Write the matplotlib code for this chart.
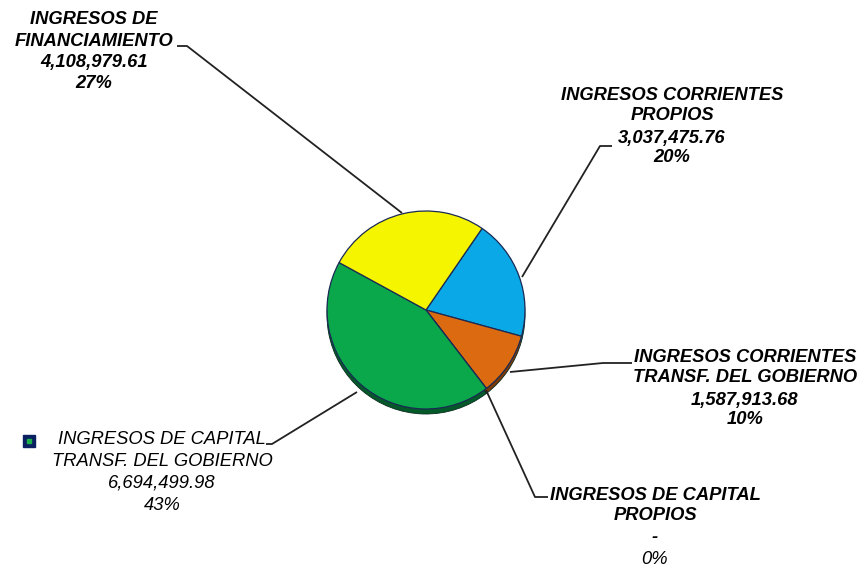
import matplotlib
matplotlib.use("Agg")
import matplotlib.pyplot as plt

# ---------------- data ----------------
categories = [
    ["INGRESOS CORRIENTES", "PROPIOS"],
    ["INGRESOS CORRIENTES", "TRANSF. DEL GOBIERNO"],
    ["INGRESOS DE CAPITAL", "PROPIOS"],
    ["INGRESOS DE CAPITAL", "TRANSF. DEL GOBIERNO"],
    ["INGRESOS DE", "FINANCIAMIENTO"],
]
values = [3037475.76, 1587913.68, 0.0, 6694499.98, 4108979.61]
colors = ["#0AA8E6", "#DC6A10", "#F2A000", "#0AA84A", "#F5F500"]
shadow_colors = ["#06628A", "#7A3A08", "#7A5000", "#035A28", "#8A8A00"]

# ---------------- layout (pixel coords) ----------------
W, H = 865, 566
center = (426, 310)
radius = 99
shadow_dy = 5

# label: (center x, [line y's], weights)
label_layout = [
    (672, [96, 116, 138, 158], ["bold"] * 4),
    (745, [358, 378, 400, 419], ["bold"] * 4),
    (655, [495, 515, 537, 559], ["bold", "bold", "bold", "normal"]),
    (162, [440, 461, 483, 505], ["normal"] * 4),
    (94, [20, 41, 63, 84], ["bold"] * 4),
]
leaders = [
    [(522, 277), (600, 146), (612, 146)],
    [(510, 372), (603, 363), (632, 363)],
    [(486, 390), (535, 497), (548, 497)],
    [(357, 392), (272, 444), (266, 444)],
    [(402, 213), (187, 46), (177, 46)],
]

fig = plt.figure(figsize=(W / 100, H / 100), dpi=100)
ax = fig.add_axes([0, 0, 1, 1])

total = sum(values)
start = -55.5

# shadow
ax.pie(values, colors=shadow_colors, startangle=start, counterclock=True,
       center=(center[0], center[1] + shadow_dy), radius=radius, frame=True,
       wedgeprops=dict(linewidth=0.6, edgecolor="#0a2a20"))
# main face
ax.pie(values, colors=colors, startangle=start, counterclock=True,
       center=center, radius=radius, frame=True,
       wedgeprops=dict(linewidth=0.9, edgecolor="#1B2A55"))
ax.set_xlim(0, W)
ax.set_ylim(H, 0)
ax.axis("off")

for pts in leaders:
    xs = [p[0] for p in pts]
    ys = [p[1] for p in pts]
    ax.plot(xs, ys, color="#222222", lw=1.3, solid_capstyle="butt", zorder=5)

for cat, v, (cx, ys, weights) in zip(categories, values, label_layout):
    amount = "-" if v == 0 else f"{v:,.2f}"
    pct = f"{round(100 * v / total):.0f}%"
    lines = cat + [amount, pct]
    for txt, y, w in zip(lines, ys, weights):
        ax.text(cx, y, txt, ha="center", va="center", fontsize=13.2,
                fontstyle="italic", fontweight=w, family="Liberation Sans",
                color="#000000", zorder=6)

# legend-like marker
ax.plot([29], [441], marker="s", markersize=8.5, color="#0B2060", zorder=6)
ax.plot([29], [441], marker="s", markersize=2.5, color="#1DB04A", zorder=7)

fig.savefig("out.png", dpi=100)
